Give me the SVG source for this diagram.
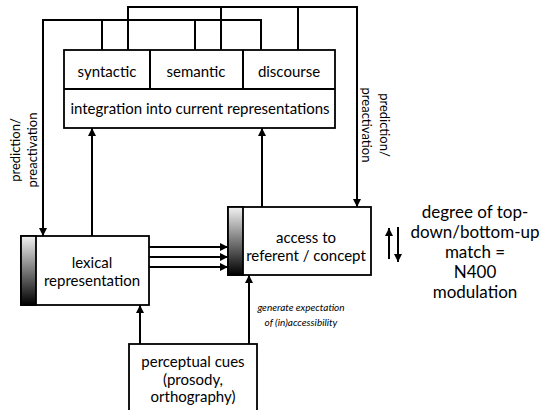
<svg xmlns="http://www.w3.org/2000/svg" width="542" height="410" viewBox="0 0 542 410">
<defs>
<linearGradient id="bar" x1="0" y1="0" x2="0" y2="1">
<stop offset="0" stop-color="#f2f2f2"/>
<stop offset="1" stop-color="#000"/>
</linearGradient>
<marker id="ah" viewBox="0 0 10 10" refX="10" refY="5" markerWidth="8" markerHeight="8" markerUnits="userSpaceOnUse" orient="auto">
<path d="M0,0 L10,5 L0,10 Z" fill="#000"/>
</marker>
<style>
.box{fill:#fff;stroke:#000;stroke-width:1.8}
.ln{fill:none;stroke:#000;stroke-width:2}
.ar{fill:none;stroke:#000;stroke-width:2;marker-end:url(#ah)}
.t{font-family:Lato,"Open Sans","Liberation Sans",sans-serif;font-size:15px;fill:#000;text-anchor:middle}
.big{font-size:17px}
.it{font-style:italic;font-size:10px}
.rot{font-size:13px}
</style>
</defs>
<g id="connectors">
<polyline class="ln" points="128,50 128,7 357,7 357,200"/>
<line class="ar" x1="357" y1="195" x2="357" y2="207"/>
<line class="ln" x1="221" y1="7" x2="221" y2="50"/>
<line class="ln" x1="298" y1="7" x2="298" y2="50"/>
<polyline class="ln" points="261,50 261,20 43,20 43,229"/>
<line class="ar" x1="43" y1="224" x2="43" y2="236"/>
<line class="ln" x1="102" y1="20" x2="102" y2="50"/>
<line class="ln" x1="195" y1="20" x2="195" y2="50"/>
<line class="ar" x1="92" y1="236" x2="92" y2="128"/>
<line class="ar" x1="262" y1="207" x2="262" y2="128"/>
<line class="ar" x1="149" y1="247" x2="228" y2="247"/>
<line class="ar" x1="149" y1="257" x2="228" y2="257"/>
<line class="ar" x1="149" y1="267" x2="228" y2="267"/>
<line class="ar" x1="140" y1="344" x2="140" y2="305"/>
<line class="ar" x1="249" y1="344" x2="249" y2="275"/>
<line class="ar" x1="389" y1="259" x2="389" y2="228"/>
<line class="ar" x1="398" y1="227" x2="398" y2="262"/>
</g>
<g id="integration">
<rect class="box" x="64" y="50" width="271" height="78"/>
<line class="ln" x1="64" y1="89" x2="335" y2="89"/>
<line class="ln" x1="150" y1="50" x2="150" y2="89"/>
<line class="ln" x1="243" y1="50" x2="243" y2="89"/>
<text class="t" x="107" y="77">syntactic</text>
<text class="t" x="196" y="77">semantic</text>
<text class="t" x="289" y="77">discourse</text>
<text class="t" x="200" y="114">integration into current representations</text>
</g>
<g id="lexical">
<rect class="box" x="21" y="236" width="128" height="69"/>
<rect x="21" y="236" width="15" height="69" fill="url(#bar)" stroke="#000" stroke-width="1.8"/>
<text class="t" x="92" y="268">lexical</text>
<text class="t" x="92" y="286">representation</text>
</g>
<g id="access">
<rect class="box" x="228" y="207" width="143" height="68"/>
<rect x="228" y="207" width="15" height="68" fill="url(#bar)" stroke="#000" stroke-width="1.8"/>
<text class="t" x="306" y="243">access to</text>
<text class="t" x="306" y="261">referent / concept</text>
</g>
<g id="perceptual">
<rect class="box" x="129" y="344" width="128" height="80"/>
<text class="t" x="193" y="367">perceptual cues</text>
<text class="t" x="193" y="385">(prosody,</text>
<text class="t" x="193" y="402">orthography)</text>
</g>
<g id="labels">
<text class="t it" x="301" y="311">generate expectation</text>
<text class="t it" x="301" y="326">of (in)accessibility</text>
<text class="t rot" transform="translate(20,150) rotate(-90)">prediction/</text>
<text class="t rot" transform="translate(37,150) rotate(-90)">preactivation</text>
<text class="t rot" transform="translate(380,125) rotate(90)">prediction/</text>
<text class="t rot" transform="translate(362,125) rotate(90)">preactivation</text>
<text class="t big" x="475" y="218">degree of top-</text>
<text class="t big" x="475" y="238">down/bottom-up</text>
<text class="t big" x="475" y="258">match =</text>
<text class="t big" x="475" y="278">N400</text>
<text class="t big" x="475" y="298">modulation</text>
</g>
</svg>
